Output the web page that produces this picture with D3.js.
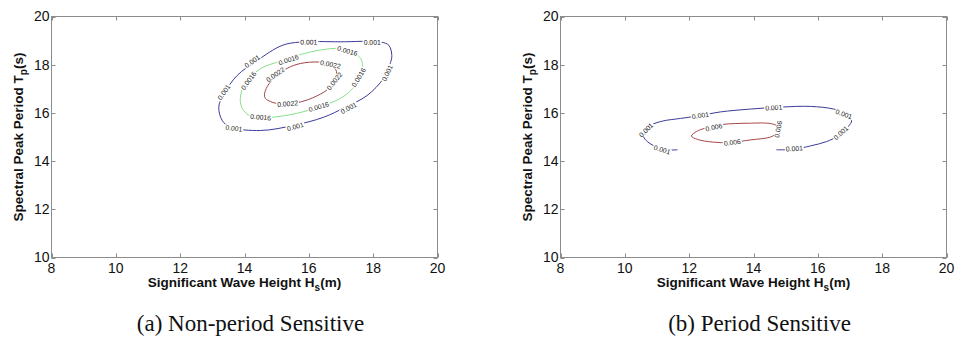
<!DOCTYPE html>
<html>
<head>
<meta charset="utf-8">
<script src="https://cdn.jsdelivr.net/npm/d3@7"></script>
<style>
  body { margin: 0; background: #fff; }
  svg { display: block; }
</style>
</head>
<body>
<svg id="chart" width="957" height="347"></svg>
<script>
// Axis ticks
const hsTicks = [8, 10, 12, 14, 16, 18, 20];
const tpTicks = [10, 12, 14, 16, 18, 20];

// (a) Non-period sensitive: contour rings as [Hs (m), Tp (s)]
const npRing001 = [
  [13.20, 16.24], [13.36, 16.79], [13.77, 17.55], [14.39, 18.17], [15.17, 18.80],
  [15.74, 18.94], [16.98, 18.95], [18.23, 18.94], [18.49, 18.80], [18.58, 18.38],
  [18.54, 18.09], [18.32, 17.43], [17.81, 16.72], [17.14, 16.24], [16.46, 15.82],
  [15.52, 15.48], [14.50, 15.27], [13.56, 15.41], [13.31, 15.68]
];
const npRing0016 = [
  [13.87, 16.47], [13.94, 17.01], [14.19, 17.47], [14.50, 17.84], [15.12, 18.15],
  [15.74, 18.42], [16.36, 18.61], [16.98, 18.67], [17.39, 18.51], [17.61, 18.26],
  [17.67, 17.93], [17.57, 17.47], [17.36, 17.01], [16.98, 16.60], [16.36, 16.27],
  [15.62, 15.98], [14.75, 15.81], [14.19, 15.87], [13.97, 16.10]
];
const npRing0022 = [
  [14.62, 16.76], [14.71, 17.10], [14.96, 17.51], [15.34, 17.86], [15.74, 18.05],
  [16.30, 18.11], [16.67, 18.01], [16.86, 17.72], [16.80, 17.34], [16.58, 16.97],
  [16.11, 16.62], [15.65, 16.43], [15.12, 16.37], [14.81, 16.47], [14.65, 16.60]
];
// Contour label anchors [Hs, Tp]
const npLabels001 = [
  [16.00, 18.94], [17.97, 18.93], [14.24, 18.14], [13.36, 16.86],
  [13.67, 15.36], [15.58, 15.43], [17.24, 16.20], [18.44, 17.65]
];
const npLabels0016 = [
  [15.37, 18.20], [14.13, 17.34], [14.50, 15.82], [16.31, 16.25],
  [17.55, 17.47], [17.20, 18.57]
];
const npLabels0022 = [
  [14.96, 17.59], [16.67, 18.01], [16.80, 17.32], [15.34, 16.38]
];

// (b) Period sensitive
const psLine001 = [
  [11.64, 14.47], [11.30, 14.47], [10.95, 14.61], [10.70, 14.81], [10.58, 15.02],
  [10.61, 15.23], [10.80, 15.48], [11.17, 15.66], [11.73, 15.77], [12.35, 15.89],
  [12.97, 16.04], [13.91, 16.16], [14.84, 16.24], [15.77, 16.27], [16.49, 16.16],
  [16.86, 15.98], [17.05, 15.68], [16.95, 15.44], [16.64, 15.06], [16.27, 14.81],
  [15.77, 14.63], [15.30, 14.50], [14.99, 14.47], [14.71, 14.47]
];
const psRing006 = [
  [12.07, 15.04], [12.23, 15.23], [12.51, 15.37], [13.04, 15.52], [13.81, 15.57],
  [14.56, 15.55], [14.78, 15.41], [14.75, 15.19], [14.53, 15.00], [13.91, 14.88],
  [13.28, 14.77], [12.72, 14.79], [12.26, 14.90]
];
const psLabels001 = [
  [11.16, 14.47], [10.66, 15.29], [12.35, 15.89], [14.63, 16.22],
  [16.81, 15.95], [16.72, 15.17], [15.27, 14.52]
];
const psLabels006 = [
  [12.77, 15.40], [14.77, 15.32], [13.34, 14.77]
];

const levelColor = { "0.001": "#3b3b99", "0.0016": "#86e08a", "0.0022": "#a0454a", "0.006": "#a8484c" };
const axisColor = "#8c8c8c";

const panels = [
  {
    left: 51.5, right: 437.5, top: 16.5, bottom: 257.5,
    caption: "(a) Non-period Sensitive",
    contours: [
      { level: "0.001", pts: npRing001, closed: true, labels: npLabels001 },
      { level: "0.0016", pts: npRing0016, closed: true, labels: npLabels0016 },
      { level: "0.0022", pts: npRing0022, closed: true, labels: npLabels0022 }
    ]
  },
  {
    left: 560.5, right: 946.5, top: 16.5, bottom: 257.5,
    caption: "(b) Period Sensitive",
    contours: [
      { level: "0.001", pts: psLine001, closed: false, labels: psLabels001 },
      { level: "0.006", pts: psRing006, closed: true, labels: psLabels006 }
    ]
  }
];

const svg = d3.select("#chart");

panels.forEach(p => {
  const x = d3.scaleLinear().domain([8, 20]).range([p.left, p.right]);
  const y = d3.scaleLinear().domain([10, 20]).range([p.bottom, p.top]);
  const g = svg.append("g");

  // Contour lines
  p.contours.forEach(c => {
    const line = d3.line()
      .x(d => x(d[0])).y(d => y(d[1]))
      .curve(c.closed ? d3.curveCatmullRomClosed.alpha(0.5) : d3.curveCatmullRom.alpha(0.5));
    g.append("path")
      .attr("d", line(c.pts))
      .attr("fill", "none")
      .attr("stroke", levelColor[c.level])
      .attr("stroke-width", 1);
  });

  // Inline contour labels, rotated along the local contour direction
  p.contours.forEach(c => {
    const px = c.pts.map(d => [x(d[0]), y(d[1])]);
    const n = px.length;
    const segCount = c.closed ? n : n - 1;
    c.labels.forEach(l => {
      const lx = x(l[0]), ly = y(l[1]);
      let best = null, bestD = Infinity;
      for (let i = 0; i < segCount; i++) {
        const a = px[i], b = px[(i + 1) % n];
        const dx = b[0] - a[0], dy = b[1] - a[1];
        const len2 = dx * dx + dy * dy;
        let t = ((lx - a[0]) * dx + (ly - a[1]) * dy) / len2;
        t = Math.max(0, Math.min(1, t));
        const qx = a[0] + t * dx, qy = a[1] + t * dy;
        const dd = (qx - lx) ** 2 + (qy - ly) ** 2;
        if (dd < bestD) { bestD = dd; best = { dx, dy }; }
      }
      let ang = Math.atan2(best.dy, best.dx) * 180 / Math.PI;
      if (ang > 90) ang -= 180;
      if (ang <= -90) ang += 180;
      const lg = g.append("g").attr("transform", `translate(${lx},${ly}) rotate(${ang})`);
      const rect = lg.append("rect").attr("fill", "#fff");
      const txt = lg.append("text")
        .attr("text-anchor", "middle")
        .attr("dy", "0.35em")
        .attr("font-family", "'Liberation Sans', Arial, sans-serif")
        .attr("font-size", 6.8)
        .attr("fill", "#222")
        .text(c.level);
      const w = txt.node().getComputedTextLength();
      rect.attr("x", -w / 2 - 1).attr("y", -3).attr("width", w + 2).attr("height", 6);
    });
  });

  // Axes box
  g.append("rect")
    .attr("x", p.left).attr("y", p.top)
    .attr("width", p.right - p.left).attr("height", p.bottom - p.top)
    .attr("fill", "none").attr("stroke", axisColor).attr("stroke-width", 1);

  const tickLen = 4;
  const tickAttr = sel => sel.attr("stroke", axisColor).attr("stroke-width", 1);
  hsTicks.forEach(t => {
    const xx = Math.round(x(t)) + 0.5;
    tickAttr(g.append("line").attr("x1", xx).attr("x2", xx).attr("y1", p.bottom).attr("y2", p.bottom - tickLen));
    tickAttr(g.append("line").attr("x1", xx).attr("x2", xx).attr("y1", p.top).attr("y2", p.top + tickLen));
    g.append("text")
      .attr("x", x(t)).attr("y", p.bottom + 15)
      .attr("text-anchor", "middle")
      .attr("font-family", "'Liberation Sans', Arial, sans-serif")
      .attr("font-size", 14).attr("fill", "#111")
      .text(t);
  });
  tpTicks.forEach(t => {
    const yy = Math.round(y(t)) + 0.5;
    tickAttr(g.append("line").attr("x1", p.left).attr("x2", p.left + tickLen).attr("y1", yy).attr("y2", yy));
    tickAttr(g.append("line").attr("x1", p.right).attr("x2", p.right - tickLen).attr("y1", yy).attr("y2", yy));
    g.append("text")
      .attr("x", p.left - 2).attr("y", y(t)).attr("dy", "0.35em")
      .attr("text-anchor", "end")
      .attr("font-family", "'Liberation Sans', Arial, sans-serif")
      .attr("font-size", 14).attr("fill", "#111")
      .text(t);
  });

  // Axis titles
  const cx = (p.left + p.right) / 2;
  const xt = g.append("text")
    .attr("x", cx).attr("y", p.bottom + 29)
    .attr("text-anchor", "middle")
    .attr("font-family", "'Liberation Sans', Arial, sans-serif")
    .attr("font-size", 13.5).attr("font-weight", "bold").attr("fill", "#111");
  xt.append("tspan").text("Significant Wave Height H");
  xt.append("tspan").attr("font-size", 10).attr("dy", 4).text("s");
  xt.append("tspan").attr("dy", -4).text("(m)");

  const cy = (p.top + p.bottom) / 2;
  const yt = g.append("text")
    .attr("transform", `translate(${p.left - 29},${cy}) rotate(-90)`)
    .attr("text-anchor", "middle")
    .attr("font-family", "'Liberation Sans', Arial, sans-serif")
    .attr("font-size", 13.5).attr("font-weight", "bold").attr("fill", "#111");
  yt.append("tspan").text("Spectral Peak Period T");
  yt.append("tspan").attr("font-size", 10).attr("dy", 4).text("p");
  yt.append("tspan").attr("dy", -4).text("(s)");

  // Sub-figure caption
  svg.append("text")
    .attr("x", cx + 6).attr("y", 331)
    .attr("text-anchor", "middle")
    .attr("font-family", "'Liberation Serif', 'Times New Roman', serif")
    .attr("font-size", 23).attr("fill", "#111")
    .text(p.caption);
});
</script>
</body>
</html>
